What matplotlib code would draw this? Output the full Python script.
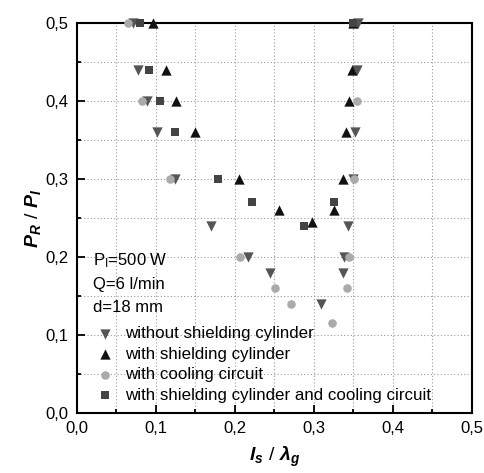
import matplotlib
matplotlib.use("Agg")
import matplotlib.pyplot as plt
from matplotlib.ticker import MultipleLocator, FuncFormatter

plt.rcParams["font.family"] = ["Liberation Sans", "DejaVu Sans"]
plt.rcParams["mathtext.fontset"] = "custom"
plt.rcParams["mathtext.it"] = "Liberation Sans:bold:italic"
plt.rcParams["mathtext.rm"] = "Liberation Sans"

# without shielding cylinder
no_shield_x = [0.071, 0.077, 0.089, 0.101, 0.124, 0.170, 0.217, 0.244, 0.309,
               0.337, 0.338, 0.343, 0.349, 0.352, 0.354, 0.356]
no_shield_y = [0.50, 0.44, 0.40, 0.36, 0.30, 0.24, 0.20, 0.18, 0.14,
               0.18, 0.20, 0.24, 0.30, 0.36, 0.44, 0.50]

# with shielding cylinder
shield_x = [0.096, 0.113, 0.126, 0.150, 0.205, 0.256, 0.297, 0.325,
            0.337, 0.341, 0.345, 0.348, 0.349]
shield_y = [0.50, 0.44, 0.40, 0.36, 0.30, 0.26, 0.245, 0.26,
            0.30, 0.36, 0.40, 0.44, 0.50]

# with cooling circuit
cool_x = [0.065, 0.082, 0.118, 0.206, 0.251, 0.271, 0.323, 0.342, 0.344, 0.351, 0.355]
cool_y = [0.50, 0.40, 0.30, 0.20, 0.16, 0.14, 0.115, 0.16, 0.20, 0.30, 0.40]

# with shielding cylinder and cooling circuit
both_x = [0.080, 0.091, 0.105, 0.124, 0.178, 0.221, 0.287, 0.325, 0.349]
both_y = [0.50, 0.44, 0.40, 0.36, 0.30, 0.27, 0.24, 0.27, 0.50]

notes = [r"P$_{\rm I}$=500 W", "Q=6 l/min", "d=18 mm"]
notes_y = [0.195, 0.165, 0.135]

fig = plt.figure(figsize=(4.84, 4.73), dpi=100)
ax = fig.add_axes([0.159, 0.127, 0.816, 0.824])

common = dict(zorder=3, linewidths=0, clip_on=False)
ax.scatter(no_shield_x, no_shield_y, marker="v", s=55, color="#555555",
           label="without shielding cylinder", **common)
ax.scatter(shield_x, shield_y, marker="^", s=55, color="#111111",
           label="with shielding cylinder", **common)
ax.scatter(cool_x, cool_y, marker="o", s=38, color="#aaaaaa",
           label="with cooling circuit", **common)
ax.scatter(both_x, both_y, marker="s", s=30, color="#444444",
           label="with shielding cylinder and cooling circuit", **common)

ax.set_xlim(0, 0.5)
ax.set_ylim(0, 0.5)
ax.xaxis.set_major_locator(MultipleLocator(0.1))
ax.xaxis.set_minor_locator(MultipleLocator(0.05))
ax.yaxis.set_major_locator(MultipleLocator(0.1))
ax.yaxis.set_minor_locator(MultipleLocator(0.05))
comma = FuncFormatter(lambda v, p: f"{v:.1f}".replace(".", ","))
ax.xaxis.set_major_formatter(comma)
ax.yaxis.set_major_formatter(comma)
ax.tick_params(which="both", direction="in", top=False, right=False,
               labelsize=12, width=1.3)
ax.tick_params(which="major", length=6, pad=6)
ax.tick_params(which="minor", length=3)
ax.grid(True, which="both", linestyle=(0, (1, 2)), color="#999999", linewidth=0.8)
ax.set_axisbelow(True)
for s in ax.spines.values():
    s.set_linewidth(1.5)

ax.set_xlabel(r"$l_s\ /\ \lambda_g$", fontsize=14, labelpad=6)
ax.set_ylabel(r"$P_R\ /\ P_I$", fontsize=14, labelpad=2)

for txt, yy in zip(notes, notes_y):
    ax.text(0.02, yy, txt, fontsize=12, va="center", ha="left")

ax.legend(loc="lower left", bbox_to_anchor=(0.02, 0.0), frameon=False,
          fontsize=12.2, handletextpad=0.6, labelspacing=0.33,
          borderaxespad=0.2, handlelength=1.2)

fig.savefig("out.png", dpi=100)
